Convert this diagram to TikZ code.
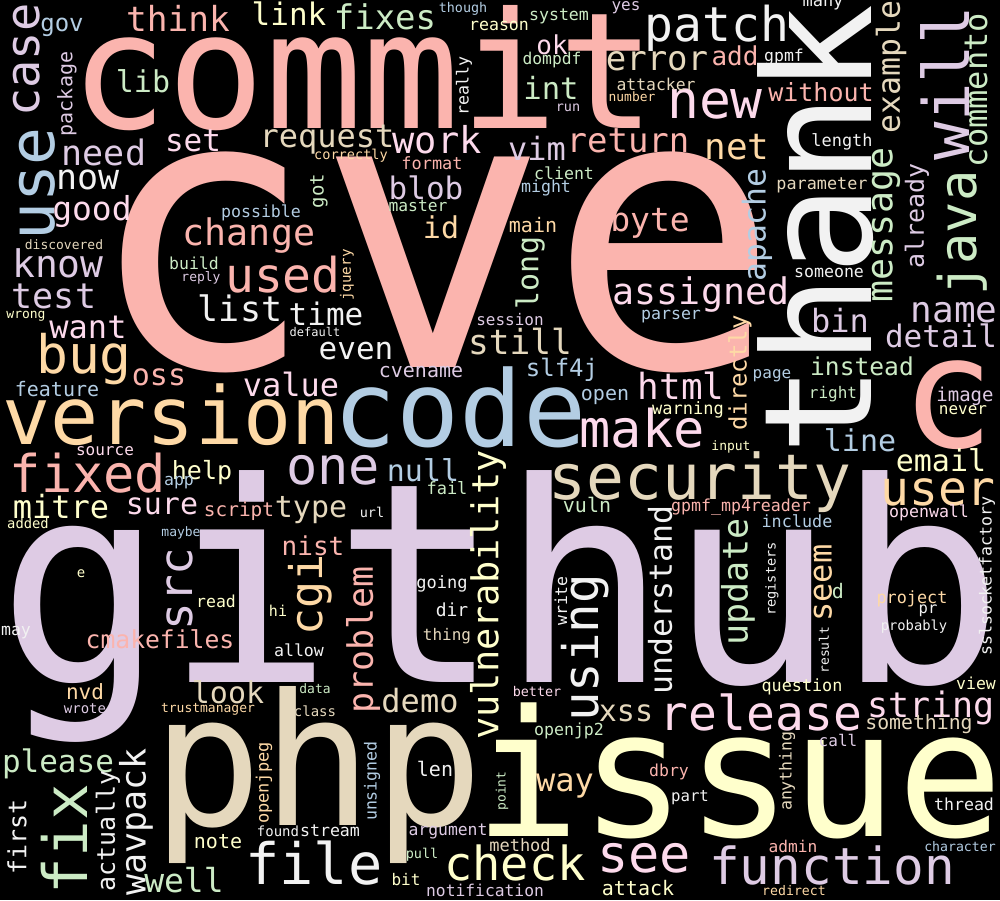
\documentclass[tikz,border=0pt]{standalone}
\usepackage{fontspec}
\setmainfont{DejaVu Sans Mono}
\definecolor{salmon}{HTML}{FBB4AE}
\definecolor{sky}{HTML}{B3CDE3}
\definecolor{mint}{HTML}{CCEBC5}
\definecolor{lilac}{HTML}{DECBE4}
\definecolor{peach}{HTML}{FED9A6}
\definecolor{cream}{HTML}{FFFFCC}
\definecolor{sand}{HTML}{E5D8BD}
\definecolor{rose}{HTML}{FDDAEC}
\definecolor{ash}{HTML}{F2F2F2}
\tikzset{word/.style={inner sep=0pt,anchor=center}}
\begin{document}
\begin{tikzpicture}[x=1pt,y=-1pt]
  \useasboundingbox (0,0) rectangle (1000,900);
  \fill[black] (0,0) rectangle (1000,900);

  % horizontal words
  \foreach \x/\y/\s/\c/\t [count=\i] in {
    433/262/385/salmon/cve, 363/68/162/salmon/commit, 501/606/279/lilac/github,
    318/775/183/sand/php, 739/771/176/cream/issue, 171/415/80/peach/version,
    460/407/105/sky/code, 700/482/63/sand/security, 948/405/155/salmon/c,
    642/428/52/rose/make, 88/473/52/salmon/fixed, 84/359/53/peach/bug,
    283/275/48/salmon/used, 715/104/53/rose/new, 717/28/48/ash/patch,
    761/712/48/rose/release, 832/865/51/lilac/function, 938/492/48/peach/user,
    644/858/52/rose/see, 515/863/47/cream/check, 314/863/57/ash/file,
    333/470/52/lilac/one,
    178/18/34.5/salmon/think, 289/14/31/cream/link, 385/17/34/mint/fixes,
    62/27/24/sky/gov, 143/81/30/mint/lib, 193/141/31/rose/set,
    104/152/35/lilac/need, 88/180/35/ash/now, 92/212/33/rose/good,
    64/245/13/sand/discovered, 58/263/38/lilac/know, 54/296/35/lilac/test,
    261/213/16.6/sky/possible, 249/236/36.6/salmon/change, 327/140/32/sand/request,
    351/156/13.6/peach/correctly, 194/263/16.5/mint/build, 201/278/13/lilac/reply,
    240/308/35/ash/list, 463/9/13.4/sky/though, 499/26/16.6/cream/reason,
    559/16/16.6/mint/system, 626/8/16/lilac/yes, 552/45/26/rose/ok,
    552/60/16.3/mint/dompdf, 551/88/30.6/mint/int, 568/108/13.5/lilac/run,
    657/61/34/sand/error, 656/84/16.4/sand/attacker, 632/97/12.9/peach/number,
    735/56/26/salmon/add, 784/57/16.5/ash/gpmf, 823/4/17/ash/many,
    437/140/37/rose/work, 537/148/32/lilac/vim, 628/141/34/salmon/return,
    821/92/25/salmon/without, 737/147/36/peach/net, 842/142/16.9/ash/length,
    650/222/33/salmon/byte, 822/185/16.8/sand/parameter, 829/273/16.6/ash/someone,
    701/295/36.6/rose/assigned, 533/225/20/peach/main, 564/173/16.6/mint/client,
    546/188/16.6/sky/might, 432/163/16.9/salmon/format, 426/188/31/lilac/blob,
    418/206/16.3/mint/master, 441/227/30/peach/id, 26/316/13/cream/wrong,
    88/327/32/rose/want, 159/377/30/salmon/oss, 57/389/20/sky/feature,
    326/314/31/ash/time, 315/332/12/ash/default, 356/351/31/ash/even,
    291/384/32/rose/value, 105/451/16/rose/source, 202/473/25/cream/help,
    179/483/16.5/sky/app, 61/507/32/cream/mitre, 162/506/30/rose/sure,
    239/511/19.4/salmon/script, 311/510/30/sand/type, 28/523/13.8/cream/added,
    181/533/13/sky/maybe, 313/546/26/salmon/nist, 81/574/14/cream/e,
    216/601/16.5/cream/read, 278/611/15/cream/hi, 510/320/16/lilac/session,
    671/317/16.6/sky/parser, 520/342/34.5/sand/still, 421/372/20/lilac/cvename,
    562/370/24/sky/slf4j, 605/397/20/sky/open, 681/386/36/rose/html,
    688/410/17/cream/warning, 423/470/30/sky/null, 447/488/17/mint/fail,
    587/505/20/mint/vuln, 372/512/13.5/ash/url, 442/584/17/ash/going,
    452/610/18/ash/dir, 447/636/16/sand/thing, 420/701/32/sand/demo,
    626/713/30/sand/xss, 569/731/16.6/mint/openjp2, 537/691/13.4/rose/better,
    435/769/20/ash/len, 565/786/32/peach/way, 669/772/16.5/salmon/dbry,
    330/831/16.6/ash/stream, 278/831/14/ash/found, 448/831/16.4/lilac/argument,
    520/845/17/sand/method, 422/855/13.5/mint/pull, 406/880/16/cream/bit,
    485/890/16.3/lilac/notification, 638/888/20/cream/attack, 184/880/33/mint/well,
    218/842/20/cream/note, 58/764/31/mint/please, 85/692/21/peach/nvd,
    85/709/14/lilac/wrote, 16/633/16.5/ash/may, 160/639/24.7/salmon/cmakefiles,
    299/650/16.6/ash/allow, 228/692/30/sand/look, 208/709/13/peach/trustmanager,
    315/689/13/mint/data, 315/711/14/sand/class, 840/321/32/lilac/bin,
    954/313/36/lilac/name, 941/336/31/lilac/detail, 772/376/16/sky/page,
    862/366/24.6/mint/instead, 833/394/16/mint/right, 965/396/19/lilac/image,
    963/410/16/cream/never, 860/440/30/sky/line, 731/447/13/cream/input,
    941/460/30/cream/email, 741/507/16.6/salmon/gpmf\_mp4reader, 797/521/16.8/sky/include,
    929/513/16.6/rose/openwall, 838/591/20/mint/d, 912/599/16.8/peach/project,
    928/611/15.5/ash/pr, 914/627/13.8/ash/probably, 976/683/16.5/cream/view,
    802/687/16.8/cream/question, 931/708/35/rose/string, 919/724/19.8/sand/something,
    838/740/16/lilac/call, 690/798/15.7/ash/part, 964/804/16.6/ash/thread,
    793/846/16.2/salmon/admin, 960/847/13.2/sky/character, 794/891/13.2/peach/redirect}
    \node[word,text=\c,font=\fontsize{\s}{\s}\selectfont] (h\i) at (\x,\y) {\t};

  % vertical words
  \foreach \x/\y/\s/\c/\t [count=\i] in {
    27/60/47/lilac/case, 37/184/63/sky/use, 67/94/20/lilac/package,
    319/191/19/mint/got, 464/86/16.6/ash/really, 891/67/31.5/sand/example,
    945/83/64/lilac/will, 976/90/32/mint/commento, 962/233/52/mint/java,
    816/230/150/ash/thank, 757/225/31.4/sky/apache, 886/225/36.6/mint/message,
    917/216/25/lilac/already, 530/273/30/mint/long, 347/275/14.3/peach/jquery,
    180/589/46/lilac/src, 310/595/45/peach/cgi, 488/595/37/cream/vulnerability,
    363/640/35/salmon/problem, 585/648/49/ash/using, 561/601/16.5/ash/write,
    660/600/31.5/ash/understand, 372/781/16.6/sky/unsigned, 502/791/13/mint/point,
    264/783/17/peach/openjpeg, 136/822/35/ash/wavpack, 108/831/25/ash/actually,
    64/839/61/mint/fix, 17/837/25/ash/first, 740/373/24/peach/directly,
    738/582/35/mint/update, 772/579/13.6/ash/registers, 823/583/32/peach/seem,
    987/576/16.6/ash/sslsocketfactory, 824/650/13/ash/result, 787/771/16.6/sand/anything}
    \node[word,rotate=90,text=\c,font=\fontsize{\s}{\s}\selectfont] (v\i) at (\x,\y) {\t};
\end{tikzpicture}
\end{document}
